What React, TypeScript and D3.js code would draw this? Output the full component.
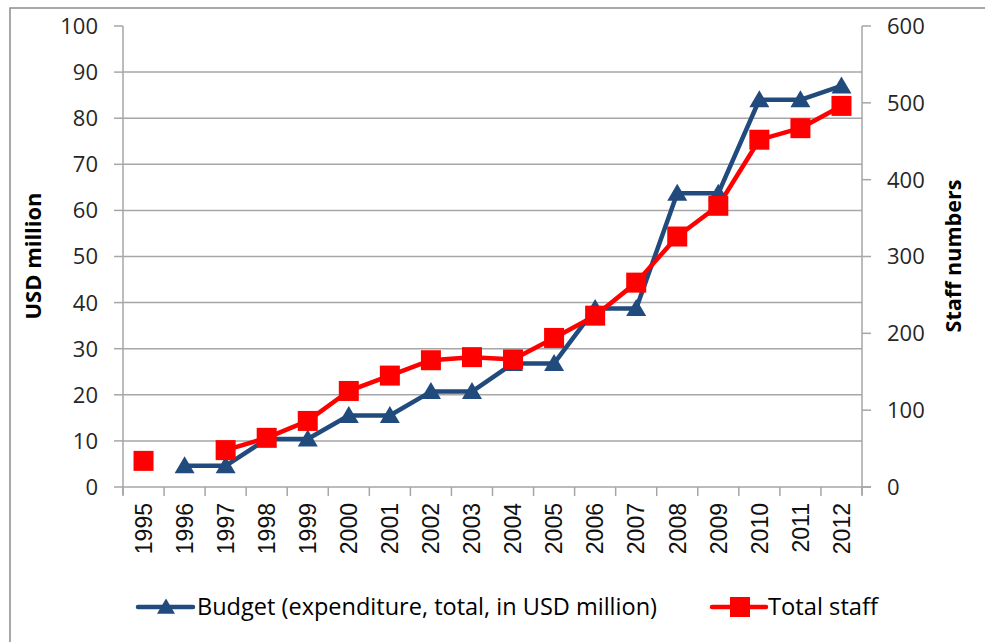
import React from "react";
import * as d3 from "d3";

const years = ["1995","1996","1997","1998","1999","2000","2001","2002","2003","2004","2005","2006","2007","2008","2009","2010","2011","2012"];
const budget: (number | null)[] = [null, 4.6, 4.6, 10.4, 10.4, 15.5, 15.5, 20.7, 20.7, 26.8, 26.8, 38.7, 38.7, 63.7, 63.7, 84, 84, 87];
const staff: number[] = [34, 48, 64, 86, 125, 145, 165, 169, 166, 194, 223, 266, 326, 366, 452, 467, 496];
const staffYears = ["1995","1997","1998","1999","2000","2001","2002","2003","2004","2005","2006","2007","2008","2009","2010","2011","2012"];
const leftTicks = [0,10,20,30,40,50,60,70,80,90,100];
const rightTicks = [0,100,200,300,400,500,600];
const budgetLabel = "Budget (expenditure, total, in USD million)";
const staffLabel = "Total staff";

const BLUE = "#214A7D";
const RED = "#FF0000";
const GRID = "#A6A6A6";
const TICKFONT = "'Open Sans', sans-serif";

export default function App() {
  const L = 123, R = 862, T = 26, B = 487;
  const x = d3.scaleBand<string>().domain(years).range([L, R]);
  const cx = (y: string) => (x(y) as number) + x.bandwidth() / 2;
  const yL = d3.scaleLinear().domain([0, 100]).range([B, T]);
  const yR = d3.scaleLinear().domain([0, 600]).range([B, T]);

  const bData = years.map((y, i) => ({ y, v: budget[i] })).filter(d => d.v !== null) as { y: string; v: number }[];
  const sData = staffYears.map((y, i) => ({ y, v: staff[i] }));
  const staffLine = sData.filter(d => d.y !== "1995");

  const lineB = d3.line<{ y: string; v: number }>().x(d => cx(d.y)).y(d => yL(d.v));
  const lineS = d3.line<{ y: string; v: number }>().x(d => cx(d.y)).y(d => yR(d.v));

  const tri = (px: number, py: number, s = 10) =>
    `M${px},${py - s * 0.95}L${px + s},${py + s * 0.75}L${px - s},${py + s * 0.75}Z`;

  const boundaries = d3.range(years.length + 1).map(i => L + i * x.step());
  const LY = 607;

  return (
    <svg width={985} height={642} style={{ position: "absolute", left: 0, top: 0, background: "#fff" }}>
      <rect x={10} y={8} width={990} height={650} fill="#fff" stroke="#8C8C8C" strokeWidth={1.5} />
      {leftTicks.filter(t => t > 0 && t < 100).map(t => (
        <line key={"g" + t} x1={L} x2={R} y1={yL(t)} y2={yL(t)} stroke={GRID} strokeWidth={1.5} />
      ))}
      {/* left axis */}
      <line x1={L} x2={L} y1={T} y2={B + 8} stroke={GRID} strokeWidth={1.5} />
      {leftTicks.map(t => (
        <g key={"l" + t}>
          <line x1={L - 9} x2={L} y1={yL(t)} y2={yL(t)} stroke={GRID} strokeWidth={1.5} />
          <text x={98} y={yL(t)} dy="0.36em" textAnchor="end" fontFamily={TICKFONT} fontSize={22} fill="#262626">{t}</text>
        </g>
      ))}
      {/* right axis */}
      <line x1={R} x2={R} y1={T} y2={B + 8} stroke={GRID} strokeWidth={1.5} />
      {rightTicks.map(t => (
        <g key={"r" + t}>
          <line x1={R} x2={R + 9} y1={yR(t)} y2={yR(t)} stroke={GRID} strokeWidth={1.5} />
          <text x={887} y={yR(t)} dy="0.36em" textAnchor="start" fontFamily={TICKFONT} fontSize={22} fill="#262626">{t}</text>
        </g>
      ))}
      {/* x axis */}
      <line x1={L} x2={R + 9} y1={B} y2={B} stroke={GRID} strokeWidth={1.5} />
      {boundaries.map((b, i) => (
        <line key={"xt" + i} x1={b} x2={b} y1={B} y2={B + 9} stroke={GRID} strokeWidth={1.5} />
      ))}
      {years.map(y => (
        <text key={"xl" + y} transform={`translate(${cx(y)},503) rotate(-90)`} dy="0.36em" textAnchor="end"
          fontFamily="'Liberation Sans', Arial, sans-serif" fontSize={23} fill="#111">{y}</text>
      ))}
      {/* axis titles */}
      <text transform="translate(33,256) rotate(-90)" dy="0.36em" textAnchor="middle" fontFamily={TICKFONT}
        fontWeight="bold" fontSize={21} fill="#000" textLength={127} lengthAdjust="spacingAndGlyphs">USD million</text>
      <text transform="translate(953,256) rotate(-90)" dy="0.36em" textAnchor="middle" fontFamily={TICKFONT}
        fontWeight="bold" fontSize={21} fill="#000" textLength={153} lengthAdjust="spacingAndGlyphs">Staff numbers</text>

      {/* series */}
      <path d={lineB(bData) || ""} fill="none" stroke={BLUE} strokeWidth={4.5} strokeLinejoin="round" />
      <path d={lineS(staffLine) || ""} fill="none" stroke={RED} strokeWidth={4.5} strokeLinejoin="round" />
      {bData.map(d => (
        <path key={"bm" + d.y} d={tri(cx(d.y), yL(d.v))} fill={BLUE} />
      ))}
      {sData.map(d => (
        <rect key={"sm" + d.y} x={cx(d.y) - 10} y={yR(d.v) - 10} width={20} height={20} fill={RED} />
      ))}

      {/* legend */}
      <line x1={138} x2={193} y1={LY} y2={LY} stroke={BLUE} strokeWidth={4.5} strokeLinecap="round" />
      <path d={tri(166, LY, 9)} fill={BLUE} />
      <text x={197} y={LY} dy="0.36em" fontFamily={TICKFONT} fontSize={23} fill="#000" textLength={460}
        lengthAdjust="spacingAndGlyphs">{budgetLabel}</text>
      <line x1={712} x2={766} y1={LY} y2={LY} stroke={RED} strokeWidth={4.5} strokeLinecap="round" />
      <rect x={730} y={LY - 10} width={20} height={20} fill={RED} />
      <text x={768} y={LY} dy="0.36em" fontFamily={TICKFONT} fontSize={23} fill="#000" textLength={110}
        lengthAdjust="spacingAndGlyphs">{staffLabel}</text>
    </svg>
  );
}
